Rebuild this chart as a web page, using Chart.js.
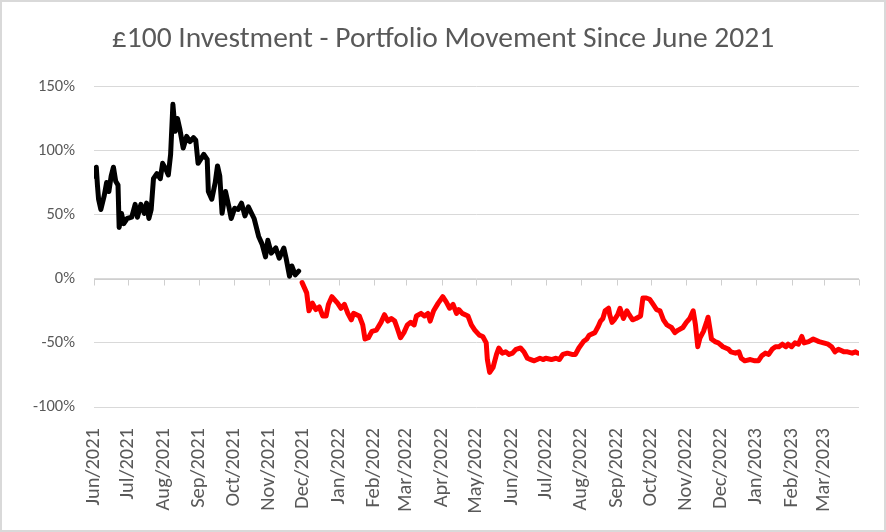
<!DOCTYPE html>
<html>
<head>
<meta charset="utf-8">
<script src="https://cdn.jsdelivr.net/npm/chart.js@4.4.1/dist/chart.umd.min.js"></script>
<style>
  html, body { margin: 0; padding: 0; background: #ffffff; }
  #wrap { width: 886px; height: 532px; position: relative; }
</style>
</head>
<body>
<div id="wrap"><canvas id="c" width="886" height="532"></canvas></div>
<script>
// Title
const chartTitle = "£100 Investment - Portfolio Movement Since June 2021";

// X axis: month tick labels and their position (days since 1 June 2021)
const monthLabels = ["Jun/2021","Jul/2021","Aug/2021","Sep/2021","Oct/2021","Nov/2021","Dec/2021",
  "Jan/2022","Feb/2022","Mar/2022","Apr/2022","May/2022","Jun/2022","Jul/2022","Aug/2022","Sep/2022",
  "Oct/2022","Nov/2022","Dec/2022","Jan/2023","Feb/2023","Mar/2023"];
const monthStartDays = [0,30,61,92,122,153,183,214,245,273,304,334,365,395,426,457,487,518,548,579,610,638];
const axisEndDay = 669;

// Y axis ticks (percent)
const yTicks = [-100, -50, 0, 50, 100, 150];

// Series 1 (black): days since 1 June 2021 and % movement
const blackDays = [0,1,2,3,4,6,9,11,13,15,17,19,21,22,24,26,29,33,36,38,41,44,46,48,50,52,55,58,60,63,65,67,69,71,73,75,78,81,84,87,89,91,96,99,100,103,106,108,110,112,115,118,120,123,126,129,132,135,140,144,147,150,152,155,159,162,166,168,171,173,176,179];
const blackValues = [80,84,87,73,62,54,65,75,68,80,87,76,73,40,51,43,47,48,58,48,58,51,59,47,54,78,82,78,90,85,81,97,136,115,125,117,102,111,107,110,108,90,97,93,68,62,75,88,80,51,68,56,47,55,54,59,49,56,47,33,27,17,30,20,24,16,24,16,2,10,3,6];

// Series 2 (red): days since 1 June 2021 and % movement
const redDays = [182,186,188,191,194,197,200,203,205,208,213,216,219,222,225,227,232,235,237,240,243,247,251,254,257,260,263,265,268,271,274,277,280,282,286,289,292,294,297,301,305,308,311,314,317,319,322,327,330,333,335,337,340,343,344,346,349,352,354,357,360,363,366,369,373,376,379,382,385,390,393,395,400,404,407,410,414,418,421,424,428,431,433,438,441,443,445,447,450,451,453,455,458,460,463,466,468,471,474,478,480,483,486,489,492,495,498,501,505,508,511,515,518,521,524,526,528,530,533,536,537,539,540,543,546,550,555,557,561,564,566,569,574,578,581,584,587,590,593,596,599,602,605,607,610,613,616,619,621,625,629,634,638,642,645,648,651,656,659,663,666,668];
const redValues = [-3,-11,-25,-19,-24,-22,-29,-29,-20,-14,-19,-23,-20,-27,-32,-27,-29,-36,-47,-46,-41,-40,-34,-28,-33,-31,-33,-38,-46,-42,-36,-34,-36,-29,-27,-29,-27,-33,-25,-19,-14,-18,-23,-20,-27,-24,-27,-29,-36,-40,-42,-44,-45,-50,-63,-73,-69,-59,-54,-58,-57,-59,-58,-55,-54,-57,-62,-63,-64,-62,-63,-62,-63,-62,-63,-59,-58,-59,-59,-54,-49,-47,-44,-42,-37,-33,-31,-25,-23,-28,-34,-32,-28,-23,-31,-25,-28,-32,-31,-29,-15,-15,-16,-20,-24,-25,-32,-36,-38,-42,-40,-38,-34,-31,-25,-36,-53,-46,-41,-33,-30,-41,-47,-49,-50,-53,-55,-57,-58,-57,-62,-64,-63,-64,-64,-60,-58,-59,-55,-53,-53,-51,-53,-51,-53,-50,-51,-45,-50,-49,-47,-49,-50,-51,-53,-57,-55,-57,-57,-58,-57,-58];

const toPoints = (xs, ys) => xs.map((x, i) => ({ x: x, y: ys[i] }));

const FONT = "Carlito, Lato, 'Liberation Sans', sans-serif";
const GREY_TEXT = '#595959';
const GRID = '#d9d9d9';

const framePlugin = {
  id: 'frame',
  beforeDraw(chart) {
    const ctx = chart.ctx;
    ctx.save();
    ctx.fillStyle = '#ffffff';
    ctx.fillRect(0, 0, chart.width, chart.height);
    ctx.strokeStyle = GRID;
    ctx.lineWidth = 2;
    ctx.strokeRect(1, 1, chart.width - 2, chart.height - 2);
    ctx.restore();
  },
  beforeDatasetsDraw(chart) {
    const ctx = chart.ctx;
    const xs = chart.scales.x, ys = chart.scales.y;
    const y0 = Math.round(ys.getPixelForValue(0)) + 0.5;
    ctx.save();
    ctx.strokeStyle = '#cfcfcf';
    ctx.lineWidth = 1;
    ctx.beginPath();
    ctx.moveTo(xs.left, y0);
    ctx.lineTo(xs.right, y0);
    monthStartDays.concat([axisEndDay]).forEach(d => {
      const px = Math.round(xs.getPixelForValue(d)) + 0.5;
      ctx.moveTo(px, y0);
      ctx.lineTo(px, y0 + 6);
    });
    ctx.stroke();
    ctx.restore();
  }
};

new Chart(document.getElementById('c'), {
  type: 'line',
  data: {
    datasets: [
      { data: toPoints(blackDays, blackValues), borderColor: '#000000', backgroundColor: '#000000',
        borderWidth: 5, pointRadius: 0, tension: 0, borderJoinStyle: 'round', borderCapStyle: 'round' },
      { data: toPoints(redDays, redValues), borderColor: '#ff0000', backgroundColor: '#ff0000',
        borderWidth: 5, pointRadius: 0, tension: 0, borderJoinStyle: 'round', borderCapStyle: 'round' }
    ]
  },
  options: {
    responsive: false,
    animation: false,
    events: [],
    layout: { padding: 0 },
    plugins: {
      legend: { display: false },
      tooltip: { enabled: false },
      title: {
        display: true,
        text: chartTitle,
        color: GREY_TEXT,
        font: { family: FONT, size: 29.5, weight: 'normal', lineHeight: 1.2 },
        padding: { top: 22, bottom: 29 }
      }
    },
    scales: {
      x: {
        type: 'linear',
        min: 0,
        max: axisEndDay,
        grid: { display: false },
        border: { display: false },
        afterBuildTicks: (scale) => { scale.ticks = monthStartDays.map(v => ({ value: v })); },
        afterFit: (scale) => { scale.height = 125; },
        ticks: {
          autoSkip: false,
          minRotation: 90,
          maxRotation: 90,
          padding: 13,
          color: GREY_TEXT,
          font: { family: FONT, size: 20.5 },
          callback: (v, i) => monthLabels[i]
        }
      },
      y: {
        min: -100,
        max: 150,
        afterBuildTicks: (scale) => { scale.ticks = yTicks.map(v => ({ value: v })); },
        afterFit: (scale) => { scale.width = 94; },
        grid: { color: GRID, lineWidth: 1, drawTicks: false },
        border: { display: false },
        ticks: {
          padding: 19,
          color: GREY_TEXT,
          font: { family: FONT, size: 16.5 },
          callback: (v) => v + '%'
        }
      },
      yRightSpace: {
        position: 'right',
        min: -100,
        max: 150,
        grid: { display: false, drawOnChartArea: false },
        border: { display: false },
        ticks: { display: false },
        afterFit: (scale) => { scale.width = 27; }
      }
    }
  },
  plugins: [framePlugin]
});
</script>
</body>
</html>
